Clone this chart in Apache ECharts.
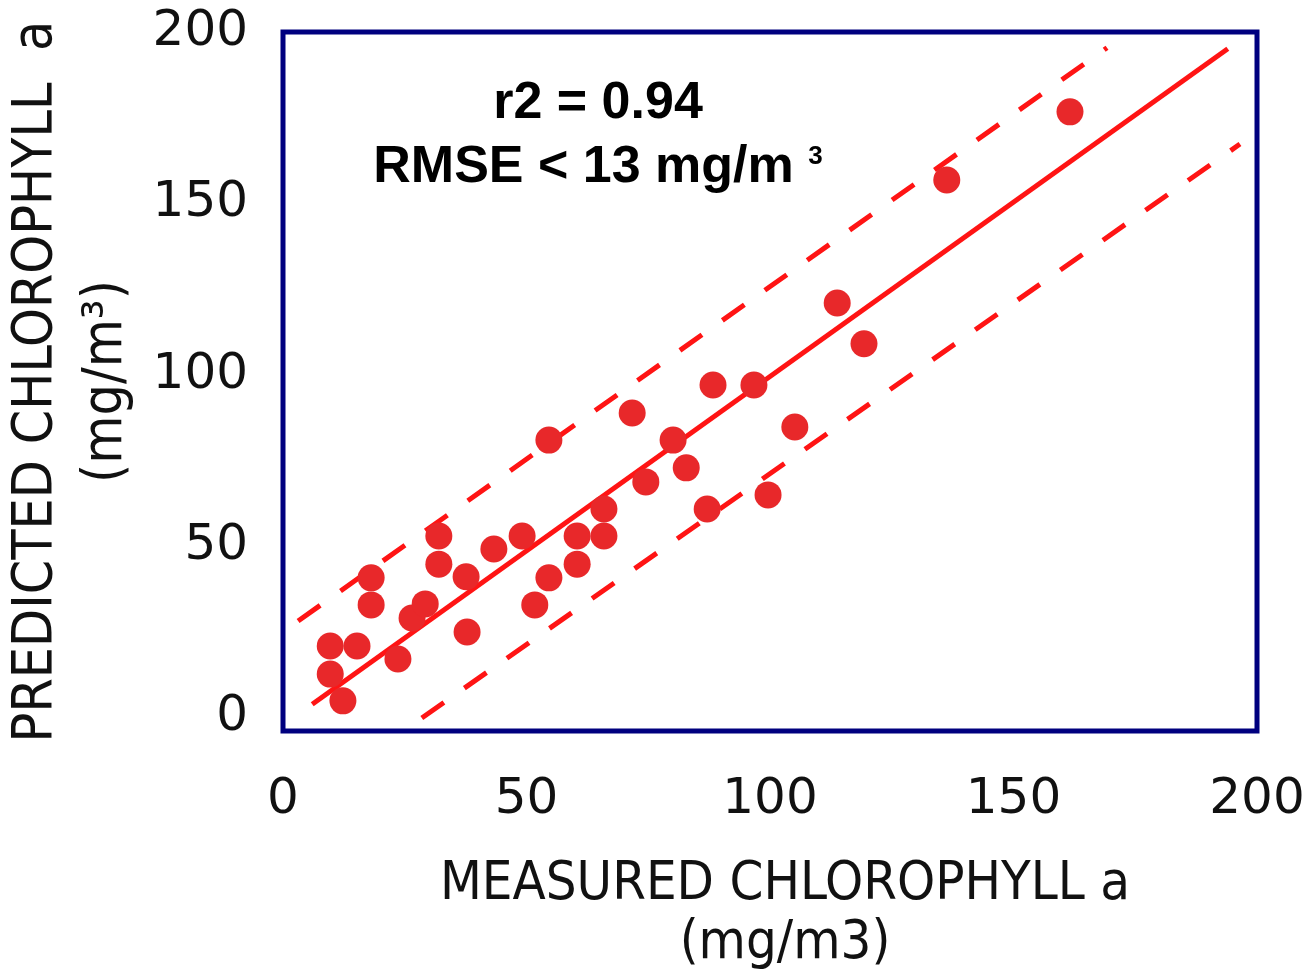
<!DOCTYPE html>
<html>
<head>
<meta charset="utf-8">
<script src="https://cdn.jsdelivr.net/npm/echarts@6/dist/echarts.min.js"></script>
<style>
  html, body { margin: 0; padding: 0; background: #ffffff; }
  #chart { width: 1310px; height: 972px; }
</style>
</head>
<body>
<div id="chart"></div>
<script>
// Tick labels on both axes
const xTicks = [0, 50, 100, 150, 200];
const yTicks = [0, 50, 100, 150, 200];

// Measured vs predicted chlorophyll a (mg/m3)
const measured = [9.7, 15.2, 9.7, 12.3, 18.1, 18.1, 23.6, 26.5, 29.2, 32.0, 32.0, 37.6,
  37.8, 43.3, 49.1, 54.6, 51.7, 54.6, 60.4, 60.4, 65.9, 65.9, 71.7, 74.5, 80.1, 82.8,
  87.1, 88.3, 96.7, 99.6, 105.1, 113.8, 119.3, 136.3, 161.6];
const predicted = [20.8, 20.8, 12.6, 4.8, 40.7, 32.8, 17.0, 29.0, 33.1, 44.7, 52.9, 41.0,
  24.9, 49.1, 52.9, 40.7, 32.8, 80.9, 52.9, 44.7, 60.8, 52.9, 88.8, 68.7, 80.9, 72.8,
  60.8, 97.0, 97.0, 64.9, 84.7, 120.9, 109.0, 156.8, 176.7];

// Regression line and its upper / lower error bounds (end points)
const fitX = [6.0, 194.0];
const fitY = [3.8, 195.1];
const upperX = [3.1, 169.2];
const upperY = [28.1, 195.4];
const lowerX = [28.5, 196.5];
const lowerY = [-0.2, 167.3];

const pairs = (xs, ys) => xs.map((x, i) => [x, ys[i]]);

const RED_DOT = '#e8282a';
const RED_LINE = '#ff1414';
const NAVY = '#00007f';
const titleFont = "'DejaVu Sans Condensed', 'DejaVu Sans', sans-serif";

const chart = echarts.init(document.getElementById('chart'), null, { renderer: 'canvas' });

chart.setOption({
  animation: false,
  backgroundColor: '#ffffff',
  grid: {
    left: 283, right: 53, top: 32, bottom: 241,
    outerBoundsMode: 'none', containLabel: false,
    show: true, borderColor: NAVY, borderWidth: 5, backgroundColor: 'transparent'
  },
  xAxis: {
    type: 'value', min: 0, max: 200,
    axisLine: { show: false }, axisTick: { show: false }, splitLine: { show: false },
    axisLabel: {
      customValues: xTicks, margin: 44,
      fontFamily: 'DejaVu Sans', fontSize: 50, color: '#111111'
    },
    name: 'MEASURED CHLOROPHYLL a\n(mg/m3)',
    nameLocation: 'middle', nameGap: 124,
    nameTextStyle: {
      fontFamily: titleFont, fontSize: 54, lineHeight: 59, color: '#111111',
      padding: [0, 0, 0, 30]
    }
  },
  yAxis: {
    type: 'value', min: -4, max: 200,
    axisLine: { show: false }, axisTick: { show: false }, splitLine: { show: false },
    axisLabel: {
      customValues: yTicks, margin: 35,
      fontFamily: 'DejaVu Sans', fontSize: 50, color: '#111111'
    },
    name: 'PREDICTED CHLOROPHYLL  a\n(mg/m³)',
    nameLocation: 'middle', nameRotate: 90, nameGap: 141,
    nameTextStyle: { fontFamily: titleFont, fontSize: 55, lineHeight: 70, color: '#111111' }
  },
  graphic: [
    {
      type: 'text', x: 598, y: 104, z: 10,
      style: {
        text: 'r2 = 0.94', textAlign: 'center', textVerticalAlign: 'middle',
        font: "bold 52px 'Liberation Sans', Arial, sans-serif", fill: '#000000'
      }
    },
    {
      type: 'text', x: 598, y: 168, z: 10,
      style: {
        text: '{b|RMSE < 13 mg/m }{s|3}', textAlign: 'center', textVerticalAlign: 'middle',
        fill: '#000000',
        rich: {
          b: { fontFamily: "'Liberation Sans', Arial, sans-serif", fontWeight: 'bold', fontSize: 52, lineHeight: 56 },
          s: { fontFamily: "'Liberation Sans', Arial, sans-serif", fontWeight: 'bold', fontSize: 26, lineHeight: 56, verticalAlign: 'top', padding: [4, 0, 0, 0] }
        }
      }
    }
  ],
  series: [
    {
      type: 'line', data: pairs(fitX, fitY), symbol: 'none', z: 2,
      lineStyle: { color: RED_LINE, width: 5 }
    },
    {
      type: 'line', data: pairs(upperX, upperY), symbol: 'none', z: 2,
      lineStyle: { color: RED_LINE, width: 5, type: [27, 25] }
    },
    {
      type: 'line', data: pairs(lowerX, lowerY), symbol: 'none', z: 2,
      lineStyle: { color: RED_LINE, width: 5, type: [27, 25] }
    },
    {
      type: 'scatter', data: pairs(measured, predicted), z: 3,
      symbol: 'circle', symbolSize: 27,
      itemStyle: { color: RED_DOT, opacity: 1 }
    }
  ]
});
</script>
</body>
</html>
